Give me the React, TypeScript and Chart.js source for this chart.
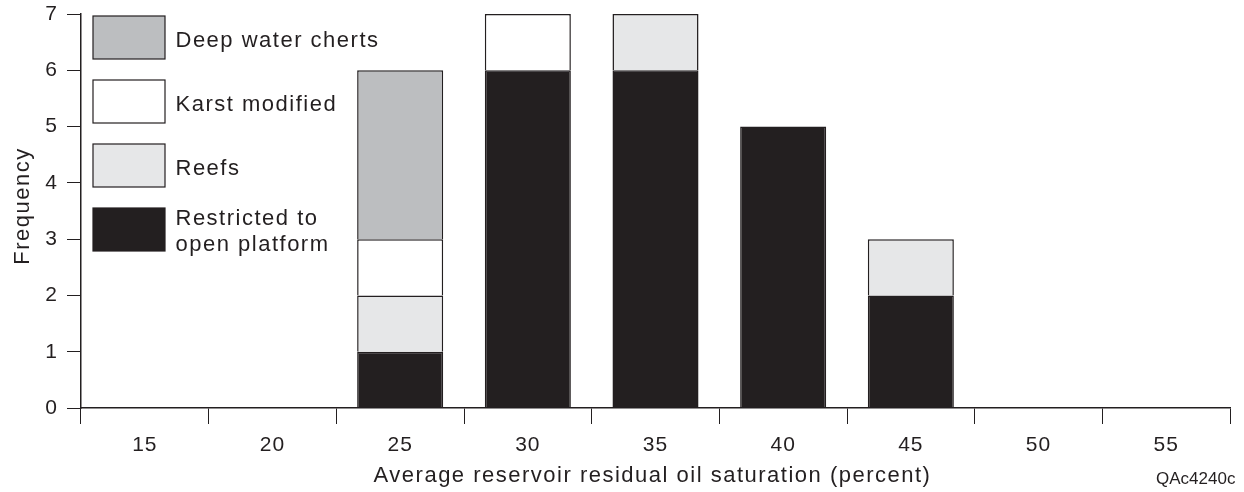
import React, { useEffect, useRef } from "react";
import { Chart, registerables } from "chart.js";

Chart.register(...registerables);

// Residual oil saturation bins (percent) and reservoir counts per play type
const saturationBins = ["15", "20", "25", "30", "35", "40", "45", "50", "55"];
const restrictedPlatform = [0, 0, 1, 6, 6, 5, 2, 0, 0];
const reefs = [0, 0, 1, 0, 1, 0, 1, 0, 0];
const karstModified = [0, 0, 1, 1, 0, 0, 0, 0, 0];
const deepWaterCherts = [0, 0, 3, 0, 0, 0, 0, 0, 0];
const frequencyTicks = [0, 1, 2, 3, 4, 5, 6, 7];

const INK = "#231f20";
const COLOR_RESTRICTED = "#231f20";
const COLOR_REEFS = "#e6e7e8";
const COLOR_KARST = "#ffffff";
const COLOR_DEEP = "#bcbec0";
const FONT = '"Liberation Sans", Arial, Helvetica, sans-serif';

// Legend entries, listed top to bottom
const legendEntries = [
  { lines: ["Deep water cherts"], color: COLOR_DEEP },
  { lines: ["Karst modified"], color: COLOR_KARST },
  { lines: ["Reefs"], color: COLOR_REEFS },
  { lines: ["Restricted to", "open platform"], color: COLOR_RESTRICTED },
];

const xTitle = "Average reservoir residual oil saturation (percent)";
const yTitle = "Frequency";
const figureId = "QAc4240c";

const decorPlugin = {
  id: "decor",
  beforeDraw(chart: any) {
    chart.ctx.letterSpacing = "1px";
  },
  afterDraw(chart: any) {
    const ctx = chart.ctx as CanvasRenderingContext2D;
    ctx.save();
    (ctx as any).letterSpacing = "1.5px";
    ctx.fillStyle = INK;

    // legend boxes and labels
    legendEntries.forEach((entry, i) => {
      const top = 16 + i * 64;
      ctx.fillStyle = entry.color;
      ctx.fillRect(93, top, 72, 43);
      ctx.lineWidth = 1.2;
      ctx.strokeStyle = INK;
      ctx.strokeRect(93, top, 72, 43);
      ctx.fillStyle = INK;
      ctx.font = `22px ${FONT}`;
      ctx.textAlign = "left";
      ctx.textBaseline = "alphabetic";
      const n = entry.lines.length;
      entry.lines.forEach((line, j) => {
        ctx.fillText(line, 175.5, top + 31 - (n - 1) * 14 + j * 26);
      });
    });

    // x axis title
    ctx.font = `22px ${FONT}`;
    ctx.textAlign = "center";
    ctx.textBaseline = "alphabetic";
    ctx.fillText(xTitle, 652.5, 482);

    // y axis title
    ctx.save();
    ctx.translate(29, 206);
    ctx.rotate(-Math.PI / 2);
    ctx.fillText(yTitle, 0, 0);
    ctx.restore();

    // figure id
    (ctx as any).letterSpacing = "0px";
    ctx.font = `17px ${FONT}`;
    ctx.textAlign = "left";
    ctx.fillText(figureId, 1156, 483.5);
    ctx.restore();
  },
};

export default function App() {
  const canvasRef = useRef<HTMLCanvasElement | null>(null);

  useEffect(() => {
    if (!canvasRef.current) return;
    const barStyle = {
      borderColor: INK,
      borderWidth: 1.5,
      categoryPercentage: 1,
      barPercentage: 0.674,
    };
    const chart = new Chart(canvasRef.current, {
      type: "bar",
      data: {
        labels: saturationBins,
        datasets: [
          { label: "Restricted to open platform", data: restrictedPlatform, backgroundColor: COLOR_RESTRICTED, ...barStyle },
          { label: "Reefs", data: reefs, backgroundColor: COLOR_REEFS, ...barStyle },
          { label: "Karst modified", data: karstModified, backgroundColor: COLOR_KARST, ...barStyle },
          { label: "Deep water cherts", data: deepWaterCherts, backgroundColor: COLOR_DEEP, ...barStyle },
        ],
      },
      options: {
        responsive: false,
        animation: false,
        layout: { padding: { top: 14, right: 14, left: 0, bottom: 0 } },
        plugins: {
          legend: { display: false },
          tooltip: { enabled: false },
          title: { display: false },
        },
        scales: {
          x: {
            stacked: true,
            offset: true,
            border: { display: true, color: INK, width: 1.5 },
            grid: {
              offset: true,
              drawOnChartArea: false,
              drawTicks: true,
              tickLength: 16,
              color: INK,
              lineWidth: 1,
            },
            ticks: {
              color: INK,
              padding: 9,
              maxRotation: 0,
              autoSkip: false,
              font: { family: FONT, size: 21 },
            },
            afterFit: (s: any) => {
              s.height = 84;
              s.paddingLeft = 0;
              s.paddingRight = 0;
            },
          },
          y: {
            stacked: true,
            min: frequencyTicks[0],
            max: frequencyTicks[frequencyTicks.length - 1],
            border: { display: true, color: INK, width: 1.5 },
            grid: {
              drawOnChartArea: false,
              drawTicks: true,
              tickLength: 14,
              color: INK,
              lineWidth: 1,
            },
            afterBuildTicks: (s: any) => {
              s.ticks = frequencyTicks.map((v) => ({ value: v }));
            },
            ticks: {
              color: INK,
              padding: 9,
              font: { family: FONT, size: 21 },
            },
            afterFit: (s: any) => {
              s.width = 81;
              s.paddingTop = 0;
              s.paddingBottom = 0;
            },
          },
        },
      },
      plugins: [decorPlugin],
    });
    return () => chart.destroy();
  }, []);

  return (
    <div style={{ position: "absolute", left: 0, top: 0, width: 1244, height: 492, background: "#ffffff" }}>
      <canvas ref={canvasRef} width={1244} height={492} style={{ display: "block" }} />
    </div>
  );
}
